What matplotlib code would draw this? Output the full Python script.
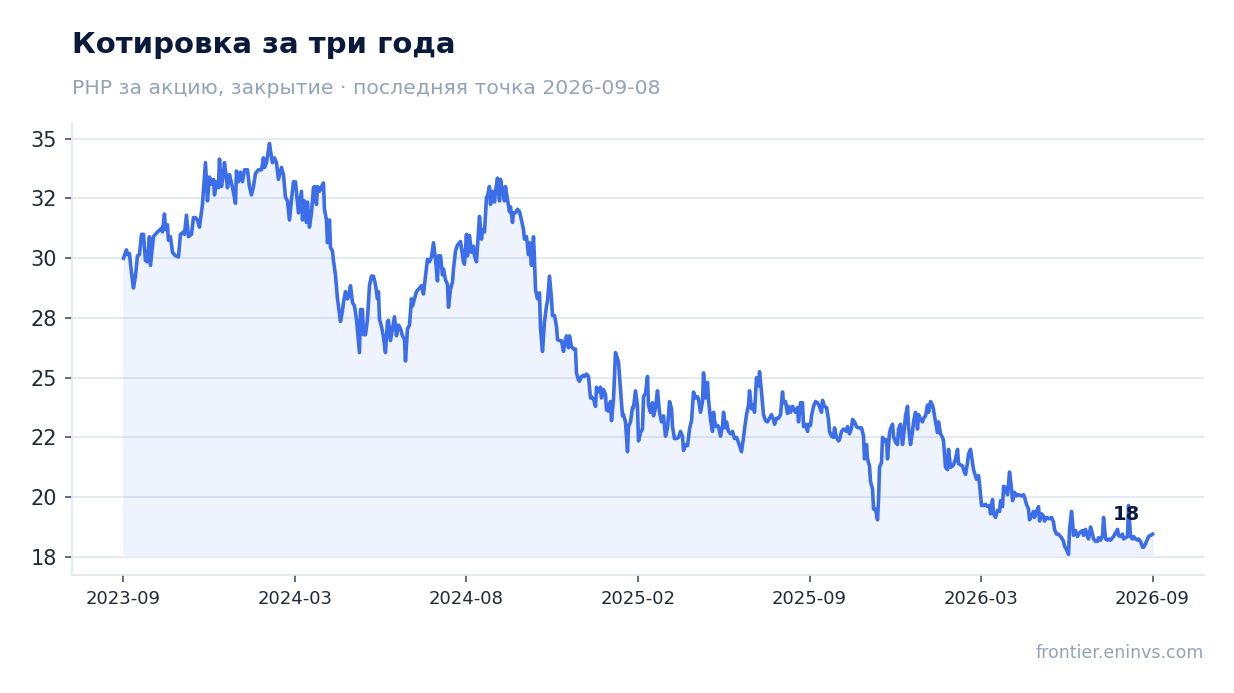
import numpy as np
import matplotlib
matplotlib.use("Agg")
import matplotlib.pyplot as plt
from matplotlib.ticker import MultipleLocator, FuncFormatter

# trading session number (from the first quote) and closing price, RUB
session = [0, 3, 4, 6, 8, 10, 12, 14, 16, 18, 20, 22, 24, 26, 27, 30, 32, 34, 38, 39,
           41, 42, 44, 45, 47, 49, 52, 55, 57, 60, 61, 63, 65, 68, 70, 72, 74, 76, 79, 82,
           84, 86, 88, 90, 91, 93, 95, 96, 98, 100, 101, 103, 104, 106, 108, 110, 112, 113, 115, 117,
           119, 121, 124, 126, 128, 130, 132, 135, 138, 140, 141, 143, 146, 147, 149, 151, 153, 155, 158, 160,
           162, 164, 166, 168, 170, 172,
           175, 178, 179, 181, 183, 184, 186, 188, 190, 191, 193, 194, 196, 198, 200, 201, 203, 204, 206, 207,
           209, 210, 212, 214, 215, 217, 219, 220, 222, 224, 225, 227, 229, 231, 233, 234, 236, 237, 239, 240,
           242, 244, 246, 248, 250, 252, 254, 255, 256, 258, 260, 262, 264, 265, 267, 269, 271, 273, 275, 277,
           279, 281, 282, 284, 286, 288, 289, 291, 293, 295, 298, 300, 302, 304, 306, 308, 310, 312, 314, 315,
           317, 319, 320, 322, 324, 325, 327, 329, 330, 332, 334,
           337, 340, 341, 343, 344, 346, 348, 350, 351, 353, 354, 356, 358, 359, 361, 363, 364, 366, 367, 369,
           371, 372, 374, 376, 377, 379, 381, 382, 384, 386, 387, 389, 390, 392, 394, 396, 398, 400, 401, 403,
           405, 406, 408, 410, 411, 412, 414, 416, 417, 419, 421, 423, 424, 426, 428, 429, 431, 433, 434, 436,
           438, 440, 441, 443, 445, 446, 448, 450, 452, 453, 455, 456, 458, 460, 461, 463, 465, 467, 468, 470,
           472, 473, 475, 477, 478, 480, 482, 483, 485, 487, 488, 490, 492, 494, 495, 497, 499, 500, 502, 504,
           505, 507, 509, 510, 512, 514,
           515, 517, 519, 520, 522, 524, 525, 527, 529, 530, 532, 534, 536, 538, 540, 542, 544, 546, 548, 549,
           551, 553, 555, 557, 559, 560, 562, 564, 566, 568, 570, 572, 574, 575, 577, 579, 580, 582, 584, 585,
           587, 589, 590, 592, 594, 595, 597, 599, 600, 602, 603, 605, 607, 609, 611, 613, 614, 616, 618, 620,
           621, 623, 625, 626, 628, 630, 631, 633, 635, 636, 638, 640, 642, 644, 646, 648, 650, 651, 653, 655,
           657, 659, 660, 662, 664, 665, 667, 669, 670, 672, 674, 675, 677, 679, 680, 682, 684, 685, 687,
           688, 690, 692, 694, 696, 698, 699, 701, 703, 705, 706, 708, 710, 711, 713, 715, 716, 718, 720, 723,
           724, 726, 728, 729, 731, 733, 735, 738, 740, 741, 743, 744, 746, 747, 749, 750, 752, 754, 755, 756,
           758, 759, 761, 763, 764, 766, 767, 769, 770, 772, 774, 775, 777, 779, 780, 782, 784, 785, 787, 789,
           790, 792, 794, 795, 797, 799, 800, 802, 804, 805, 807, 809, 810, 812, 814, 815, 817, 819, 820, 822,
           824, 825, 827, 829, 830, 832, 834, 835, 837, 839, 840, 842, 844, 845, 847,
           850, 853, 855, 856, 858, 860, 862, 864, 866, 867, 869, 870, 872, 874, 876, 877, 879, 880, 882, 884,
           885, 886, 888, 889, 891, 893, 895, 898, 900, 901, 903, 905, 906, 908, 910, 911, 913, 915, 916, 918,
           920, 921, 923, 925, 926, 928, 930, 931, 933, 935, 936, 938, 940, 941, 943, 945, 946, 948, 949, 950,
           952, 954, 955, 957, 959, 960, 962, 964, 965, 967, 969, 970, 972, 974, 975, 977, 979, 980, 982, 984,
           985, 987, 989, 990, 992, 994, 995, 997, 999, 1000, 1002, 1004, 1005, 1007, 1009, 1010, 1012, 1014, 1015, 1017,
           1019, 1020, 1022, 1024, 1025, 1027, 1029]

close = [30.0, 30.35, 30.15, 30.2, 29.4, 28.75, 29.25, 30.1, 30.15, 31.0, 31.0, 29.9, 29.85, 30.9, 29.7, 30.9, 31.0, 31.1, 31.25, 31.1,
         31.85, 31.2, 31.4, 30.75, 30.9, 30.25, 30.1, 30.05, 31.0, 31.1, 31.0, 31.8, 30.9, 31.0, 31.7, 31.7, 31.6, 31.3, 32.25, 34.0,
         32.4, 33.4, 33.1, 33.3, 32.65, 33.2, 32.95, 34.15, 33.0, 33.55, 34.0, 33.35, 32.95, 33.5, 33.15, 32.75, 32.3, 33.65, 33.2, 33.6,
         33.2, 33.7, 33.7, 33.0, 32.65, 33.0, 33.55, 33.7, 33.7, 34.2, 33.8, 34.0, 34.8, 34.5, 34.0, 34.2, 34.0, 33.3, 33.8, 33.5,
         32.55, 32.4, 31.6, 32.45, 33.2, 33.2,
         31.9, 32.8, 31.6, 32.4, 31.5, 32.35, 31.3, 31.9, 32.95, 33.0, 32.25, 33.0, 32.8, 33.0, 33.15, 32.05, 31.6, 30.65, 31.6, 30.45,
         30.3, 29.9, 29.3, 28.3, 28.0, 27.35, 27.8, 28.15, 28.6, 28.3, 28.4, 28.85, 28.15, 28.0, 27.45, 27.0, 26.05, 27.85, 27.85, 26.8,
         26.8, 27.45, 28.85, 29.25, 29.25, 28.9, 28.3, 28.6, 27.45, 27.15, 26.7, 26.05, 27.35, 27.4, 26.55, 27.05, 27.55, 26.75, 27.2, 27.05,
         26.75, 26.6, 25.7, 27.05, 27.2, 28.3, 28.0, 28.3, 28.6, 28.7, 28.85, 28.5, 29.25, 29.95, 29.85, 30.05, 30.65, 29.95, 29.05, 30.1,
         30.1, 29.3, 29.55, 29.1, 28.9, 27.95, 28.7, 29.0, 29.55, 30.3, 30.55,
         30.7, 29.85, 29.75, 31.0, 30.1, 30.95, 30.25, 30.5, 30.1, 29.85, 30.5, 31.75, 30.8, 31.2, 31.1, 32.55, 32.6, 33.0, 32.25, 32.8,
         32.35, 32.8, 33.35, 32.4, 33.3, 32.8, 32.4, 33.0, 32.45, 31.95, 32.15, 31.5, 31.9, 31.9, 32.05, 31.95, 31.6, 31.2, 30.8, 30.9,
         30.15, 30.65, 29.7, 30.9, 29.95, 28.7, 28.3, 28.55, 27.1, 26.1, 27.35, 28.0, 28.2, 29.25, 28.3, 27.6, 27.6, 27.15, 26.6, 26.55,
         26.55, 26.1, 26.4, 26.75, 26.25, 26.75, 26.3, 26.2, 26.2, 25.2, 24.9, 24.85, 25.05, 25.1, 25.05, 25.15, 25.05, 24.15, 24.2, 24.1,
         23.8, 24.6, 24.4, 24.6, 24.15, 24.5, 24.3, 23.65, 23.6, 24.0, 23.2, 24.1, 26.05, 25.8, 25.65, 24.5, 23.4, 23.45, 23.15, 21.9,
         22.95, 23.15, 23.75, 23.75, 24.45, 23.8,
         22.35, 22.7, 22.85, 24.2, 24.35, 25.05, 23.85, 23.55, 23.95, 23.4, 23.75, 24.45, 23.55, 23.15, 23.4, 22.55, 22.9, 24.0, 23.7, 22.95,
         22.45, 22.45, 22.5, 22.75, 22.55, 21.95, 22.2, 22.15, 22.85, 23.2, 24.4, 24.15, 24.2, 24.1, 23.55, 24.0, 25.2, 24.15, 24.8, 24.1,
         23.25, 22.75, 23.55, 22.95, 23.0, 22.95, 22.55, 22.95, 23.55, 22.9, 23.15, 22.75, 22.65, 22.75, 22.45, 22.5, 22.4, 22.15, 21.9, 22.5,
         22.85, 23.45, 23.85, 24.45, 23.7, 23.85, 23.55, 25.0, 24.65, 25.25, 24.4, 23.45, 23.2, 23.15, 23.3, 23.45, 23.25, 23.05, 23.3, 23.3,
         23.45, 24.4, 23.95, 24.0, 23.5, 23.8, 23.55, 23.8, 23.7, 23.55, 23.75, 23.15, 23.95, 23.95, 22.95, 23.05, 22.75, 23.05, 23.0,
         23.4, 23.8, 24.0, 23.95, 23.8, 23.55, 24.05, 23.8, 23.75, 23.25, 22.75, 22.55, 22.5, 22.9, 22.5, 22.35, 22.4, 22.75, 22.85, 22.75,
         22.95, 22.65, 22.9, 23.25, 23.15, 22.95, 22.9, 22.9, 22.55, 21.6, 22.2, 21.6, 21.3, 20.65, 20.35, 19.5, 19.5, 19.05, 19.9, 21.25,
         21.45, 22.5, 22.35, 22.4, 21.6, 22.7, 22.85, 23.05, 22.55, 22.3, 22.2, 22.85, 23.05, 22.2, 22.55, 23.4, 23.8, 22.95, 22.2, 22.75,
         23.15, 23.55, 22.85, 23.45, 23.25, 23.15, 23.3, 23.4, 23.85, 23.55, 24.0, 23.85, 23.65, 23.15, 22.7, 23.15, 22.65, 22.5, 22.35, 21.25,
         21.15, 22.0, 21.25, 21.3, 21.35, 21.6, 22.0, 21.4, 21.35, 21.3, 21.15, 20.95, 21.45, 21.8, 22.0,
         21.15, 20.75, 20.9, 20.55, 19.65, 19.65, 19.7, 19.6, 19.65, 19.3, 19.9, 19.3, 19.15, 19.45, 19.4, 19.85, 19.6, 20.45, 20.4, 20.1,
         20.55, 21.05, 20.35, 19.85, 20.2, 20.05, 20.1, 20.05, 20.1, 20.0, 19.7, 19.5, 19.05, 19.2, 19.4, 19.15, 19.4, 19.6, 19.0, 19.3,
         19.2, 19.0, 19.15, 19.1, 19.1, 19.15, 18.95, 18.65, 18.45, 18.45, 18.4, 18.3, 18.15, 17.95, 17.8, 17.6, 18.65, 19.4, 18.95, 18.4,
         18.6, 18.35, 18.45, 18.55, 18.6, 18.4, 18.65, 18.35, 18.25, 18.75, 18.45, 18.25, 18.15, 18.15, 18.3, 18.2, 18.4, 19.15, 18.25, 18.2,
         18.25, 18.2, 18.3, 18.35, 18.5, 18.65, 18.4, 18.35, 18.45, 18.25, 18.3, 18.35, 19.65, 18.35, 18.25, 18.35, 18.25, 18.2, 18.25, 18.15,
         17.9, 17.9, 18.05, 18.25, 18.35, 18.4, 18.45]

tick_labels = ['2023-09', '2024-03', '2024-08', '2025-02', '2025-09', '2026-03', '2026-09']

title = 'Котировка за три года'
subtitle = 'РНР за акцию, закрытие · последняя точка 2026-09-08'
source = 'frontier.eninvs.com'

line_color = '#3b6ee8'
navy = '#0b1a3c'
muted = '#94a3b8'
grid_color = '#e2e8f0'

x = np.array(session)
y = np.array(close)

fig = plt.figure(figsize=(12.34, 6.93), dpi=100)
ax = fig.add_axes([72 / 1234, 1 - 575 / 693, 1132 / 1234, 452 / 693])

ax.fill_between(x, y, y.min(), color=line_color, alpha=0.08, linewidth=0.8)
ax.plot(x, y, color=line_color, linewidth=2.6, solid_joinstyle='round')

ax.yaxis.set_major_locator(MultipleLocator(2.5))
ax.yaxis.set_major_formatter(FuncFormatter(lambda v, p: f'{v:.0f}'))
ax.set_xticks(np.linspace(x[0], x[-1], len(tick_labels)))
ax.set_xticklabels(tick_labels)

ax.grid(axis='y', color=grid_color, linewidth=1.3)
ax.set_axisbelow(True)
for side in ['top', 'right']:
    ax.spines[side].set_visible(False)
for side in ['left', 'bottom']:
    ax.spines[side].set_color(grid_color)
    ax.spines[side].set_linewidth(1.3)
ax.tick_params(axis='x', labelsize=13, colors='#1f2937', length=5, width=1.2, pad=6)
ax.tick_params(axis='y', labelsize=15, colors='#1f2937', length=5, width=1.2, pad=6)
ax.tick_params(axis='both', color='#475569')

ax.annotate(f'{y[-1]:.0f}', xy=(x[-1], y[-1]), xytext=(-19, 14), textcoords='offset points',
            ha='center', va='center', fontsize=14, fontweight='bold', color=navy)

fig.text(72 / 1234, 1 - 53 / 693, title, fontsize=21, fontweight='bold', color=navy, va='baseline')
fig.text(72 / 1234, 1 - 94 / 693, subtitle, fontsize=14.7, color=muted, va='baseline')
fig.text(1204 / 1234, 1 - 658 / 693, source, fontsize=12.5, color=muted, ha='right', va='baseline')

fig.savefig('out.png', dpi=100)
